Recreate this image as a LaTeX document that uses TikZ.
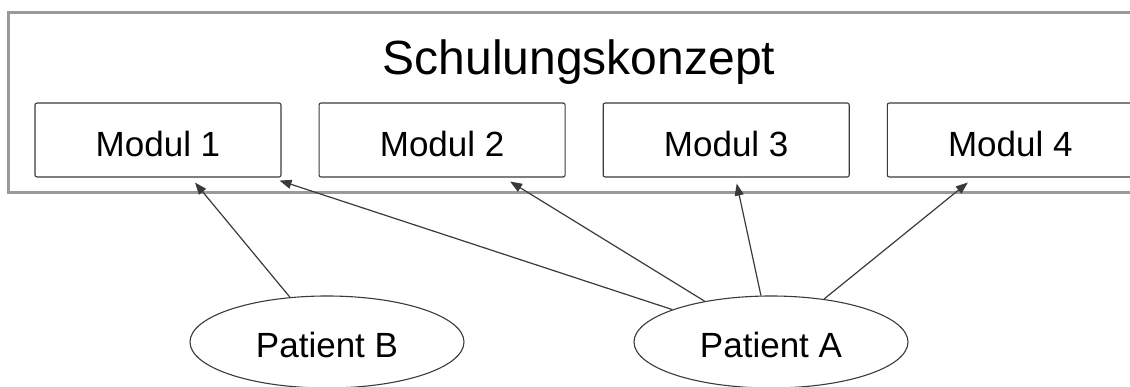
\documentclass[tikz,border=0pt]{standalone}
\usepackage{fontspec}
\setmainfont{Liberation Sans}
\usetikzlibrary{arrows.meta,positioning,shapes.geometric}
\definecolor{rahmengrau}{HTML}{9A9A9A}
\definecolor{liniengrau}{HTML}{3A3A3A}

\tikzset{
  modul/.style={draw=liniengrau, line width=1.1pt, rectangle, rounded corners=2pt,
    minimum width=246pt, minimum height=74pt, inner sep=0pt,
    font=\fontsize{35}{40}\selectfont, text height=34pt, text depth=0pt},
  patient/.style={draw=liniengrau, line width=1.1pt, ellipse,
    minimum width=274pt, minimum height=92pt, inner sep=0pt,
    font=\fontsize{35}{40}\selectfont, text height=32pt, text depth=0pt},
  pfeil/.style={draw=liniengrau, line width=1.2pt, -{Triangle[length=12pt,width=9pt]}}
}

\begin{document}
\begin{tikzpicture}[x=1pt, y=-1pt, node distance=37pt]
      \useasboundingbox (0,0) rectangle (1130,387);

      % Frame and title
      \node[draw=rahmengrau, line width=3pt, rectangle, minimum width=1134pt, minimum height=180pt,
        inner sep=0pt] (konzept) at (575,103) {};
      \node[anchor=base, font=\fontsize{48}{56}\selectfont] (titel) at (579,75) {Schulungskonzept};

      % Nodes
      \node[modul] (m1) at (158,140) {Modul 1};
      \node[modul, right=of m1] (m2) {Modul 2};
      \node[modul, right=of m2] (m3) {Modul 3};
      \node[modul, right=of m3] (m4) {Modul 4};

      \node[patient] (pb) at (327,342) {Patient B};
      \node[patient] (pa) at (771,342) {Patient A};

      % Arrow ends below the modules
      \coordinate (m1b) at ([xshift=37pt,yshift=-5pt]m1.south);
      \coordinate (m1c) at ([xshift=-2pt,yshift=-3pt]m1.south east);
      \coordinate (m2b) at ([xshift=68pt,yshift=-4pt]m2.south);
      \coordinate (m3b) at ([xshift=10.5pt,yshift=-6pt]m3.south);
      \coordinate (m4b) at ([xshift=-42.5pt,yshift=-5pt]m4.south);

      % Arrows
      \draw[pfeil] (pb) -- (m1b);
      \draw[pfeil] (pa) -- (m1c);
      \draw[pfeil] (pa) -- (m2b);
      \draw[pfeil] (pa) -- (m3b);
      \draw[pfeil] (pa) -- (m4b);
    \end{tikzpicture}
\end{document}
